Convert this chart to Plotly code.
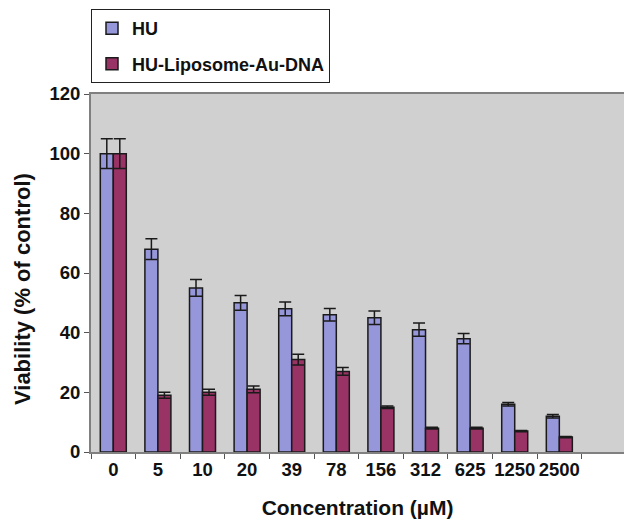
import plotly.graph_objects as go

categories = ["0", "5", "10", "20", "39", "78", "156", "312", "625", "1250", "2500"]
hu_values = [100, 68, 55, 50, 48, 46, 45, 41, 38, 16, 12]
hu_errors = [5, 3.5, 2.8, 2.5, 2.3, 2.1, 2.3, 2.2, 1.7, 0.6, 0.6]
lip_values = [100, 19, 20, 21, 31, 27, 15, 8, 8, 7, 5]
lip_errors = [5, 1.0, 1.0, 1.1, 1.8, 1.3, 0.4, 0.3, 0.3, 0.2, 0.2]
y_ticks = [0, 20, 40, 60, 80, 100, 120]

x = list(range(len(categories)))
font_family = "Liberation Sans, Arial, sans-serif"
txt = "#111111"

fig = go.Figure()
fig.add_trace(go.Bar(
    x=x, y=hu_values, name="<b>HU</b>", legendgroup="a",
    marker=dict(color="#9696DA", line=dict(color="#1a1a1a", width=1.5)),
    error_y=dict(type="data", array=hu_errors, visible=True, color="#1a1a1a", thickness=1.5, width=6),
))
fig.add_trace(go.Bar(
    x=x, y=lip_values, name="<b>HU-Liposome-Au-DNA</b>", legendgroup="b",
    marker=dict(color="#993366", line=dict(color="#1a1a1a", width=1.5)),
    error_y=dict(type="data", array=lip_errors, visible=True, color="#1a1a1a", thickness=1.5, width=6),
))

fig.update_layout(
    width=624, height=519,
    margin=dict(l=91, r=0, t=94, b=67, autoexpand=False),
    paper_bgcolor="white",
    plot_bgcolor="#D0D0D0",
    barmode="group",
    bargap=0.417,
    bargroupgap=0,
    font=dict(family=font_family, color=txt),
    showlegend=True,
    legend=dict(
        x=0.0, y=1.237, xref="paper", yref="paper", xanchor="left", yanchor="top",
        bgcolor="white", bordercolor="#222222", borderwidth=1,
        font=dict(size=18, family=font_family, color=txt),
        tracegroupgap=9,
        itemwidth=30,
    ),
    xaxis=dict(
        range=[-0.5, 11.45], automargin=False,
        tickmode="array", tickvals=x, ticktext=["<b>%s</b>" % c for c in categories],
        ticks="", showgrid=False, zeroline=False,
        showline=True, mirror=True, linecolor="#808080", linewidth=2,
        tickfont=dict(size=18.5, family=font_family, color=txt),
        minor=dict(ticks="outside", ticklen=5, tick0=-0.5, dtick=1, tickcolor="#555555", tickwidth=1, showgrid=False),
        title=dict(text="<b>Concentration (µM)</b>", font=dict(size=21, family=font_family, color=txt), standoff=21),
    ),
    yaxis=dict(
        range=[0, 120], automargin=False,
        tickmode="array", tickvals=y_ticks, ticktext=["<b>%d</b>" % v for v in y_ticks],
        ticks="outside", ticklen=5, tickcolor="#555555",
        showgrid=False, zeroline=False,
        showline=True, linecolor="#808080", linewidth=2,
        tickfont=dict(size=18.5, family=font_family, color=txt),
    ),
    annotations=[dict(
        text="<b>Viability (% of control)</b>", textangle=-90,
        xref="paper", yref="paper", x=(22 - 91) / 533.0, y=(452 - 289) / 358.0,
        xanchor="center", yanchor="middle", showarrow=False,
        font=dict(size=22, family=font_family, color=txt),
    )],
)

fig.write_html(
    "out.html",
    config={"displayModeBar": False},
    post_script="document.body.style.margin='0';document.body.style.padding='0';document.body.style.overflow='hidden';",
)
